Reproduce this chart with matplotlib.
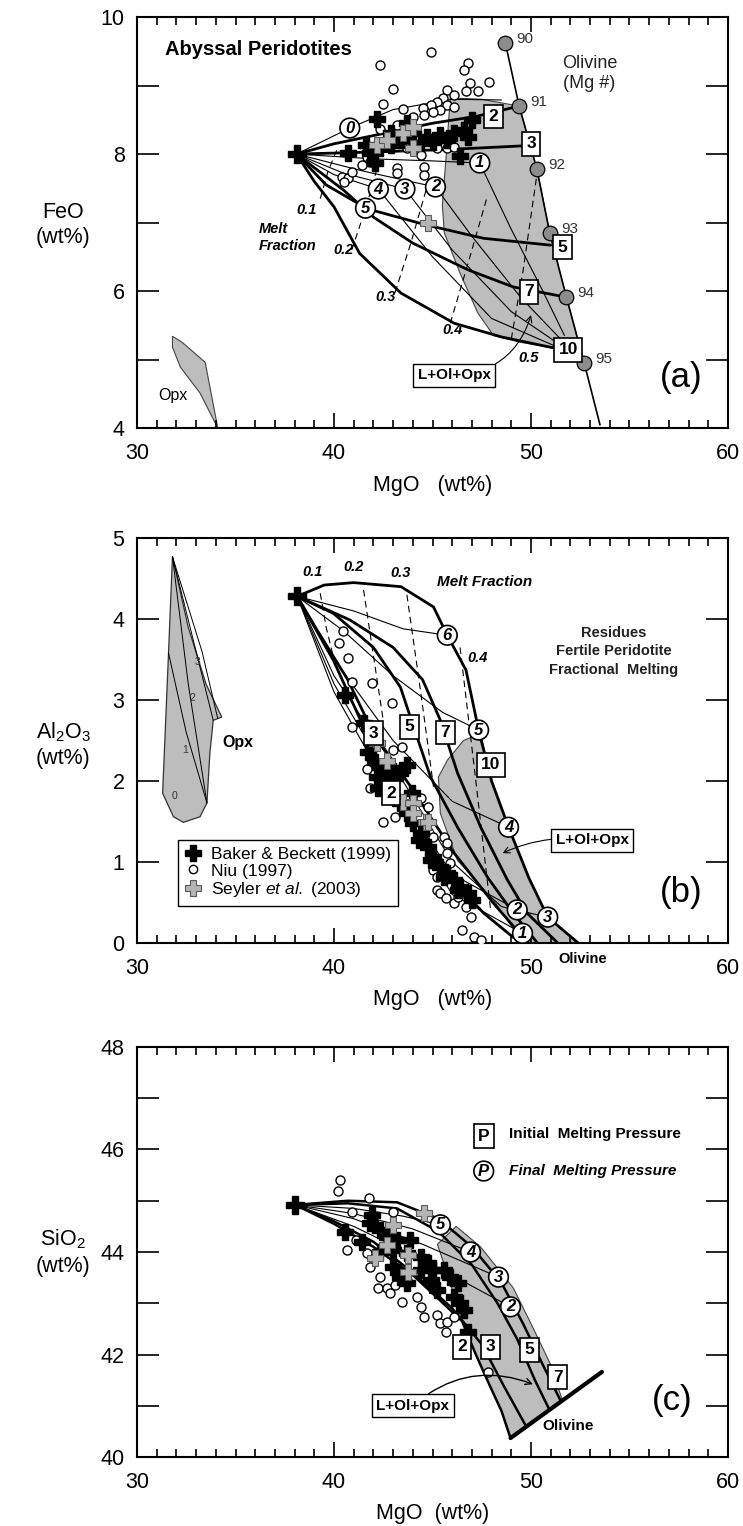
import numpy as np
import matplotlib
matplotlib.use("Agg")
import matplotlib.pyplot as plt
from matplotlib.lines import Line2D
from matplotlib.patches import Polygon

plt.rcParams['font.family'] = ['Liberation Sans', 'DejaVu Sans']
plt.rcParams['mathtext.fontset'] = 'custom'
plt.rcParams['mathtext.rm'] = 'Liberation Sans'
plt.rcParams['mathtext.it'] = 'Liberation Sans:italic'
plt.rcParams['mathtext.bf'] = 'Liberation Sans:bold'

# ---------------- (a) MgO - FeO ----------------
src_a = (38.1, 8.0)

niu_a_mgo = [44.9, 42.35, 43.0, 42.5, 43.5, 46.8, 46.6, 47.85, 46.9, 47.3, 46.7, 45.76, 46.1, 45.55,
             45.25, 44.9, 44.5, 45.76, 45.4, 45.0, 46.1, 44.55, 44.0, 42.35, 43.2, 41.7, 41.85, 43.2,
             43.2, 44.55, 44.55, 40.4, 40.7, 40.9, 40.5, 43.7, 45.25, 45.76, 46.1, 44.4, 41.4]
niu_a_feo = [9.49, 9.30, 8.95, 8.73, 8.66, 9.33, 9.23, 9.05, 9.04, 8.92, 8.92, 8.93, 8.86, 8.82,
             8.76, 8.72, 8.67, 8.72, 8.64, 8.61, 8.69, 8.57, 8.54, 8.36, 8.42, 7.96, 7.88, 7.80,
             7.72, 7.81, 7.69, 7.66, 7.65, 7.74, 7.59, 8.09, 8.09, 8.09, 8.10, 7.99, 7.84]
bb_a_mgo = [42.2, 41.6, 40.7, 42.1, 42.9, 43.7, 44.0, 44.7, 45.4, 46.1, 46.6, 47.0, 46.8, 46.4,
            45.05, 44.4, 43.4, 42.35, 42.9, 45.76, 41.85]
bb_a_feo = [8.51, 8.13, 8.01, 7.87, 8.31, 8.45, 8.31, 8.25, 8.28, 8.31, 8.35, 8.50, 8.25, 7.97,
            8.18, 8.16, 8.20, 8.09, 8.13, 8.20, 8.01]
sey_a_mgo = [42.2, 42.7, 43.5, 44.0, 44.0, 44.75]
sey_a_feo = [8.13, 8.20, 8.31, 8.40, 8.09, 6.99]

# olivine Mg# line
ol_mgo = [48.7, 49.4, 50.3, 50.95, 51.8, 52.7]
ol_feo = [9.62, 8.70, 7.78, 6.85, 5.91, 4.95]
ol_mgnum = ['90', '91', '92', '93', '94', '95']
ol_tail = (53.5, 4.05)

# initial melting pressure paths (kbar)
a_paths = {
    '2': [(38.1, 8.0), (40.0, 8.15), (42.5, 8.3), (45.0, 8.45), (47.2, 8.55), (49.4, 8.70)],
    '3': [(38.1, 8.0), (42.0, 8.03), (46.0, 8.07), (49.6, 8.12)],
    '5': [(38.1, 8.0), (39.6, 7.55), (41.7, 7.2), (44.75, 6.96), (47.6, 6.77), (51.0, 6.67)],
    '7': [(38.1, 8.0), (40.5, 7.47), (42.0, 7.08), (44.0, 6.70), (46.8, 6.31), (49.1, 6.06),
          (51.8, 5.91)],
    '10': [(38.1, 8.0), (39.0, 7.6), (40.0, 7.23), (41.3, 6.55), (43.4, 5.97), (46.1, 5.53),
           (48.5, 5.33), (51.15, 5.17)],
}
a_boxes = {'2': (48.1, 8.55), '3': (50.0, 8.15), '5': (51.6, 6.64), '7': (49.9, 5.99),
           '10': (51.9, 5.14)}
# final melting pressure curves
a_final = [
    [(38.1, 8.0), (40.8, 8.38), (43.0, 8.65), (46.0, 8.8), (48.5, 8.79)],
    [(38.1, 8.0), (42.0, 7.93), (45.0, 7.9), (47.4, 7.87), (49.0, 6.9), (50.6, 6.0), (51.7, 5.35)],
    [(38.1, 8.0), (41.5, 7.75), (45.15, 7.52), (47.0, 6.8), (49.5, 5.9), (51.5, 5.3)],
    [(38.1, 8.0), (40.5, 7.72), (43.6, 7.49), (46.0, 6.6), (49.0, 5.7), (51.3, 5.25)],
    [(38.1, 8.0), (40.0, 7.7), (42.25, 7.49), (45.0, 6.5), (48.0, 5.6), (51.2, 5.2)],
]
a_circles = {'0': (40.8, 8.38), '1': (47.4, 7.87), '2': (45.15, 7.52), '3': (43.6, 7.49),
             '4': (42.25, 7.49), '5': (41.6, 7.21)}
# melt fraction contours
a_melt = [
    [(39.3, 7.35), (39.7, 7.75), (40.2, 8.1)],
    [(40.9, 6.6), (41.6, 7.2), (42.3, 7.9)],
    [(43.1, 5.98), (43.9, 6.7), (44.8, 7.6)],
    [(45.9, 5.53), (46.8, 6.4), (47.8, 7.4)],
    [(49.0, 5.3), (49.6, 6.3), (50.3, 7.7)],
]
a_melt_lbl = {'0.1': (38.6, 7.18), '0.2': (40.5, 6.6), '0.3': (42.6, 5.91), '0.4': (46.0, 5.43),
              '0.5': (49.9, 5.02)}
a_lop = [(45.9, 8.82), (45.7, 8.0), (45.5, 7.25), (45.6, 6.85), (46.4, 6.26), (47.3, 5.68),
         (48.1, 5.35), (49.5, 5.25), (51.2, 5.17), (52.45, 5.2), (51.8, 5.91), (50.95, 6.85),
         (50.3, 7.78), (49.4, 8.70), (47.5, 8.80)]
a_opx = [(31.8, 5.34), (32.3, 5.25), (33.46, 4.96), (34.1, 4.0), (33.2, 4.51), (32.2, 4.89),
         (31.8, 5.18)]

# ---------------- (b) MgO - Al2O3 ----------------
src_b = (38.13, 4.28)

niu_b_mgo = [40.47, 40.27, 40.73, 40.93, 41.95, 42.96, 40.93, 42.5, 43.0, 43.47, 41.7, 41.85,
             42.35, 43.1, 44.4, 45.05, 45.56, 45.76, 45.0, 45.25, 45.25, 45.4, 45.66, 46.07,
             46.27, 46.7, 46.93, 46.5, 47.1, 47.44, 45.76, 45.9, 44.75]
niu_b_al = [3.85, 3.70, 3.52, 3.22, 3.21, 2.96, 2.67, 1.49, 2.38, 2.42, 2.15, 1.91,
            1.89, 1.56, 1.79, 1.31, 1.31, 1.11, 0.90, 0.81, 0.65, 0.62, 0.56, 0.49,
            0.57, 0.44, 0.32, 0.16, 0.07, 0.04, 1.23, 0.99, 1.68]
bb_b_mgo = [40.57, 41.5, 41.75, 42.1, 42.5, 43.0, 43.7, 42.2, 42.25, 42.86, 43.37, 43.37,
            43.98, 43.7, 44.0, 44.4, 44.75, 45.05, 45.4, 45.76, 46.07, 46.4, 46.8, 47.0,
            44.9, 45.56, 46.27, 44.3]
bb_b_al = [3.06, 2.72, 2.36, 2.23, 2.16, 2.13, 2.20, 2.05, 1.91, 2.04, 2.10, 1.73,
           1.85, 1.60, 1.48, 1.36, 1.19, 1.06, 0.94, 0.86, 0.78, 0.69, 0.62, 0.53,
           1.02, 0.81, 0.65, 1.27]
sey_b_mgo = [42.2, 42.7, 43.5, 44.0, 44.0, 44.65, 44.75]
sey_b_al = [2.47, 2.25, 1.74, 1.73, 1.61, 1.49, 1.50]

b_paths = {
    '10': [(38.13, 4.28), (39.5, 4.42), (41.0, 4.45), (43.4, 4.40), (45.05, 4.15), (45.75, 3.80),
           (46.7, 3.37), (47.34, 2.63), (48.0, 2.0), (48.86, 1.43), (49.9, 0.8), (50.85, 0.32),
           (52.4, 0.0)],
    '7': [(38.13, 4.28), (40.8, 3.99), (43.0, 3.65), (44.5, 3.25), (45.4, 2.75), (46.27, 2.10),
          (47.45, 1.43), (48.8, 0.78), (49.8, 0.37), (51.36, 0.0)],
    '5': [(38.13, 4.28), (39.97, 4.07), (42.0, 3.65), (43.37, 3.16), (44.0, 2.7), (44.9, 2.05),
          (46.27, 1.43), (47.8, 0.81), (49.1, 0.37), (50.33, 0.0)],
    '3': [(38.13, 4.28), (39.15, 3.86), (40.7, 3.25), (42.0, 2.59), (43.9, 1.93), (46.1, 1.11),
          (48.1, 0.49), (49.6, 0.07)],
    '2': [(38.13, 4.28), (39.97, 3.49), (41.5, 2.67), (42.9, 1.85), (45.05, 1.02), (47.6, 0.37),
          (49.1, 0.07)],
}
b_boxes = {'2': (42.9, 1.85), '3': (42.0, 2.59), '5': (43.83, 2.67), '7': (45.66, 2.6),
           '10': (47.95, 2.2)}
b_final = [
    [(38.13, 4.28), (41.0, 4.1), (43.5, 3.88), (45.75, 3.80)],
    [(38.13, 4.28), (40.5, 3.85), (43.0, 3.3), (45.5, 2.85), (47.34, 2.63)],
    [(38.13, 4.28), (40.0, 3.5), (43.0, 2.5), (46.0, 1.75), (48.86, 1.43)],
    [(38.13, 4.28), (40.0, 3.3), (43.0, 2.2), (46.0, 1.0), (48.5, 0.45), (50.85, 0.32)],
    [(38.13, 4.28), (40.0, 3.2), (43.0, 1.95), (46.0, 0.85), (49.3, 0.41)],
    [(38.13, 4.28), (40.0, 3.1), (43.0, 1.8), (46.0, 0.6), (49.57, 0.12)],
]
b_circles = {'6': (45.75, 3.80), '5': (47.34, 2.63), '4': (48.86, 1.43), '3': (50.85, 0.32),
             '2': (49.3, 0.41), '1': (49.57, 0.12)}
b_melt = [
    [(39.3, 4.32), (39.6, 3.9), (40.0, 3.5)],
    [(41.5, 4.36), (42.0, 3.55), (42.5, 2.75)],
    [(43.7, 4.3), (44.4, 3.1), (45.05, 1.93)],
    [(46.4, 3.65), (47.2, 2.0), (47.95, 0.41)],
]
b_melt_lbl = {'0.1': (38.9, 4.58), '0.2': (41.0, 4.64), '0.3': (43.37, 4.57), '0.4': (47.3, 3.52)}
b_lop = [(47.44, 2.59), (48.0, 2.0), (48.86, 1.43), (49.9, 0.8), (50.85, 0.32), (52.4, 0.0),
         (49.6, 0.0), (48.1, 0.53), (46.27, 1.02), (45.4, 1.6), (45.3, 2.05), (45.76, 2.26),
         (46.57, 2.5)]
b_opx = [(31.8, 4.77), (32.6, 3.9), (33.5, 3.2), (34.3, 2.79), (33.87, 2.75), (33.7, 2.35),
         (33.55, 1.73), (33.2, 1.56), (32.35, 1.49), (31.85, 1.56), (31.3, 1.85), (31.6, 3.58)]
b_opx_lines = [
    [(31.8, 4.77), (32.6, 3.2), (33.55, 1.73)],
    [(31.8, 4.77), (33.0, 3.6), (33.87, 2.75)],
    [(31.8, 4.77), (33.3, 3.6), (34.1, 2.77)],
    [(31.6, 3.58), (32.5, 2.6), (33.55, 1.73)],
]
b_opx_lbl = {'0': (31.9, 1.81), '1': (32.45, 2.38), '2': (32.8, 3.02), '3': (33.05, 3.47)}

# ---------------- (c) MgO - SiO2 ----------------
src_c = (38.03, 44.92)

niu_c_mgo = [40.32, 40.22, 41.8, 40.93, 43.0, 40.68, 41.1, 41.7, 41.85, 42.35, 42.25, 42.7,
             42.86, 43.47, 43.1, 44.23, 44.4, 44.55, 45.25, 45.4, 45.76, 46.07, 45.66, 43.7,
             47.8, 44.75, 43.2]
niu_c_si = [45.40, 45.19, 45.05, 44.78, 44.78, 44.04, 44.23, 43.98, 43.71, 43.51, 43.30, 43.30,
            43.20, 43.02, 43.36, 43.12, 42.93, 42.73, 42.77, 42.61, 42.63, 42.73, 42.44, 43.45,
            41.66, 43.71, 43.65]
bb_c_mgo = [40.57, 41.44, 41.95, 41.85, 42.35, 42.7, 43.2, 43.88, 43.0, 43.7, 44.4, 44.75,
            45.05, 45.56, 45.9, 44.4, 43.0, 43.37, 43.7, 44.9, 46.27, 46.4, 46.6, 46.8, 45.25,
            46.07, 42.35]
bb_c_si = [44.39, 44.20, 44.72, 44.56, 44.43, 44.30, 44.23, 44.23, 44.04, 43.98, 43.90, 43.78,
           43.65, 43.65, 43.51, 43.65, 43.71, 43.51, 43.40, 43.45, 43.40, 43.00, 42.87, 42.44,
           43.26, 43.12, 44.00]
sey_c_mgo = [44.55, 43.0, 42.7, 42.1, 43.78, 43.78]
sey_c_si = [44.76, 44.53, 44.14, 43.88, 43.94, 43.61]

c_paths = {
    '7': [(38.03, 44.92), (40.7, 45.0), (43.2, 44.97), (45.3, 44.65), (47.0, 44.1), (48.5, 43.4),
          (49.6, 42.6), (50.6, 41.8), (51.5, 41.1)],
    '5': [(38.03, 44.92), (40.7, 44.95), (43.2, 44.85), (45.3, 44.4), (47.0, 43.75), (48.3, 43.0),
          (49.3, 42.3), (50.2, 41.5), (50.9, 40.95)],
    '3': [(38.03, 44.92), (40.0, 44.6), (42.0, 44.2), (44.0, 43.6), (46.0, 42.9), (47.5, 42.2),
          (48.6, 41.4), (49.75, 40.6)],
    '2': [(38.03, 44.92), (40.0, 44.55), (42.0, 44.1), (44.0, 43.55), (45.4, 43.05), (46.5, 42.65),
          (47.2, 42.0), (47.9, 41.4), (48.5, 40.9), (48.96, 40.37)],
}
c_boxes = {'2': (46.5, 42.15), '3': (47.95, 42.15), '5': (49.93, 42.09), '7': (51.35, 41.56)}
c_final = [
    [(38.03, 44.92), (41.0, 44.85), (43.5, 44.7), (45.4, 44.53)],
    [(38.03, 44.92), (41.0, 44.75), (44.0, 44.45), (46.93, 44.0)],
    [(38.03, 44.92), (41.0, 44.65), (44.5, 44.15), (48.35, 43.51)],
    [(38.03, 44.92), (41.0, 44.5), (45.0, 43.75), (48.96, 42.93)],
]
c_circles = {'5': (45.4, 44.53), '4': (46.93, 44.0), '3': (48.35, 43.51), '2': (48.96, 42.93)}
c_lop = [(45.25, 44.15), (45.9, 43.4), (46.5, 42.65), (47.2, 42.0), (47.9, 41.4), (48.5, 40.9),
         (48.96, 40.37), (51.6, 41.1), (51.0, 41.8), (50.13, 42.5), (49.1, 43.3), (47.44, 44.1),
         (46.2, 44.5)]
c_olivine = [(48.96, 40.37), (53.6, 41.66)]


def draw_path(ax, pts, lw=2.0, ls='-', color='black', z=3):
    xs, ys = zip(*pts)
    ax.plot(xs, ys, color=color, lw=lw, ls=ls, zorder=z, solid_capstyle='round')


def box_label(ax, key, xy, fs=12.5):
    ax.text(xy[0], xy[1], key, ha='center', va='center', fontsize=fs, fontweight='bold',
            zorder=8, bbox=dict(boxstyle='square,pad=0.25', fc='white', ec='black', lw=1.2))


def circle_label(ax, key, xy, fs=12):
    ax.text(xy[0], xy[1], key, ha='center', va='center', fontsize=fs, fontweight='bold',
            fontstyle='italic', zorder=8,
            bbox=dict(boxstyle='circle,pad=0.14', fc='white', ec='black', lw=1.2))


def plot_data(ax, niu, bb, sey):
    ax.plot(niu[0], niu[1], 'o', ms=6.5, mfc='white', mec='black', mew=1.0, ls='none',
            zorder=5)
    ax.plot(bb[0], bb[1], 'P', ms=12, color='black', ls='none', zorder=6)
    ax.plot(sey[0], sey[1], 'P', ms=12, mfc='#b4b4b4', mec='#5a5a5a', mew=0.8, ls='none',
            zorder=6)


def setup_axes(ax, ylo, yhi, step):
    ax.set_xlim(30, 60)
    ax.set_ylim(ylo, yhi)
    ax.set_xticks([30, 40, 50, 60])
    ax.set_xticks(np.arange(31, 60), minor=True)
    ax.set_yticks(np.arange(ylo, yhi + 1, step))
    ax.set_yticks(np.arange(ylo, yhi + 1, 1), minor=True)
    ax.tick_params(which='both', direction='in', top=True, right=True, width=1.2,
                   labelsize=15.5)
    ax.tick_params(axis='x', which='major', length=11, pad=11)
    ax.tick_params(axis='x', which='minor', length=6)
    ax.tick_params(axis='y', which='both', length=16, pad=9)
    for sp in ax.spines.values():
        sp.set_linewidth(1.5)


fig = plt.figure(figsize=(7.43, 15.26), dpi=100)
ax_a = fig.add_axes([0.1844, 0.7195, 0.7954, 0.2693])
ax_b = fig.add_axes([0.1844, 0.3820, 0.7954, 0.2654])
ax_c = fig.add_axes([0.1844, 0.0452, 0.7954, 0.2687])

# ---- panel (a) ----
ax = ax_a
setup_axes(ax, 4, 10, 2)
ax.add_patch(Polygon(a_lop, closed=True, fc='#bdbdbd', ec='#444444', lw=0.8, zorder=1))
ax.add_patch(Polygon(a_opx, closed=True, fc='#bdbdbd', ec='#444444', lw=0.8, zorder=1))
for pts in a_melt:
    draw_path(ax, pts, lw=0.8, ls=(0, (6, 4)), z=2)
for pts in a_final:
    draw_path(ax, pts, lw=0.8, z=2)
for key, pts in a_paths.items():
    draw_path(ax, pts, lw=2.0)
ol_x = list(ol_mgo) + [ol_tail[0]]
ol_y = list(ol_feo) + [ol_tail[1]]
ax.plot(ol_x, ol_y, color='black', lw=1.2, zorder=3)
ax.plot(ol_mgo, ol_feo, 'o', ms=10.5, mfc='#8c8c8c', mec='black', mew=0.9, zorder=7)
for x, y, s in zip(ol_mgo, ol_feo, ol_mgnum):
    ax.annotate(s, (x, y), xytext=(8, 3), textcoords='offset points', fontsize=11,
                ha='left', va='center', color='#333333', zorder=7)
plot_data(ax, (niu_a_mgo, niu_a_feo), (bb_a_mgo, bb_a_feo), (sey_a_mgo, sey_a_feo))
ax.plot(*src_a, 'P', ms=13, color='black', zorder=7)
for key, xy in a_boxes.items():
    box_label(ax, key, xy)
for key, xy in a_circles.items():
    circle_label(ax, key, xy)
for key, xy in a_melt_lbl.items():
    ax.text(xy[0], xy[1], key, fontsize=10.5, fontweight='bold', fontstyle='italic',
            ha='center', va='center', zorder=7)
ax.text(36.2, 6.78, 'Melt\nFraction', fontsize=10.5, fontweight='bold', fontstyle='italic',
        ha='left', va='center', linespacing=1.3)
ax.annotate('L+Ol+Opx', xy=(50.0, 5.65), xytext=(46.1, 4.77), fontsize=11, fontweight='bold',
            ha='center', va='center', zorder=8,
            bbox=dict(boxstyle='square,pad=0.3', fc='white', ec='black', lw=1.0),
            arrowprops=dict(arrowstyle='->', lw=0.8, color='black',
                            connectionstyle='arc3,rad=0.35', shrinkA=0, shrinkB=0))
ax.text(31.8, 4.48, 'Opx', fontsize=11.5, ha='center', va='center')
ax.text(0.047, 0.92, 'Abyssal Peridotites', transform=ax.transAxes, fontsize=14.5,
        fontweight='bold', ha='left', va='center')
ax.text(51.6, 9.18, 'Olivine\n(Mg #)', fontsize=13, ha='left', va='center', linespacing=1.2,
        color='#222222')
ax.text(57.6, 4.74, '(a)', fontsize=25, ha='center', va='center')
ax.text(-0.125, 0.494, 'FeO\n(wt%)', transform=ax.transAxes, fontsize=15.5, ha='center',
        va='center', linespacing=1.2)
ax.text(0.5, -0.14, 'MgO   (wt%)', transform=ax.transAxes, fontsize=15.5, ha='center',
        va='center')

# ---- panel (b) ----
ax = ax_b
setup_axes(ax, 0, 5, 1)
ax.add_patch(Polygon(b_lop, closed=True, fc='#bdbdbd', ec='#444444', lw=0.8, zorder=1))
ax.add_patch(Polygon(b_opx, closed=True, fc='#bdbdbd', ec='#333333', lw=0.9, zorder=1))
for pts in b_opx_lines:
    draw_path(ax, pts, lw=0.7, z=2)
for key, xy in b_opx_lbl.items():
    ax.text(xy[0], xy[1], key, fontsize=7.5, ha='center', va='center', color='#333333')
ax.text(35.1, 2.48, 'Opx', fontsize=11.5, fontweight='bold', ha='center', va='center')
for pts in b_melt:
    draw_path(ax, pts, lw=0.8, ls=(0, (6, 4)), z=2)
for pts in b_final:
    draw_path(ax, pts, lw=0.8, z=2)
for key, pts in b_paths.items():
    draw_path(ax, pts, lw=2.0)
plot_data(ax, (niu_b_mgo, niu_b_al), (bb_b_mgo, bb_b_al), (sey_b_mgo, sey_b_al))
ax.plot(*src_b, 'P', ms=13, color='black', zorder=7)
for key, xy in b_boxes.items():
    box_label(ax, key, xy)
for key, xy in b_circles.items():
    circle_label(ax, key, xy)
for key, xy in b_melt_lbl.items():
    ax.text(xy[0], xy[1], key, fontsize=10.5, fontweight='bold', fontstyle='italic',
            ha='center', va='center', zorder=7)
ax.text(47.65, 4.46, 'Melt Fraction', fontsize=11, fontweight='bold', fontstyle='italic',
        ha='center', va='center')
ax.text(54.2, 3.6, 'Residues\nFertile Peridotite\nFractional  Melting', fontsize=10.5,
        fontweight='bold', ha='center', va='center', linespacing=1.45, color='#222222')
ax.annotate('L+Ol+Opx', xy=(48.55, 1.11), xytext=(53.1, 1.27), fontsize=11, fontweight='bold',
            ha='center', va='center', zorder=8,
            bbox=dict(boxstyle='square,pad=0.3', fc='white', ec='black', lw=1.0),
            arrowprops=dict(arrowstyle='->', lw=0.8, color='black',
                            connectionstyle='arc3,rad=0.15', shrinkA=0, shrinkB=0))
ax.text(52.6, -0.2, 'Olivine', fontsize=10.5, fontweight='bold', ha='center', va='center',
        clip_on=False)
ax.text(57.6, 0.63, '(b)', fontsize=25, ha='center', va='center')
handles = [
    Line2D([], [], marker='P', color='black', ls='none', ms=11),
    Line2D([], [], marker='o', mfc='white', mec='black', mew=1.0, ls='none', ms=6),
    Line2D([], [], marker='P', mfc='#b4b4b4', mec='#5a5a5a', mew=0.8, ls='none', ms=11),
]
labels = ['Baker & Beckett (1999)', 'Niu (1997)', r'Seyler $\mathit{et\ al.}$ (2003)']
leg = ax.legend(handles, labels, loc='lower left', bbox_to_anchor=(0.069, 0.091),
                fontsize=12.5, frameon=True, fancybox=False, edgecolor='black', framealpha=1,
                borderpad=0.4, labelspacing=0.1, handlelength=1.0, handletextpad=0.5,
                borderaxespad=0)
leg.get_frame().set_linewidth(1.0)
leg.set_zorder(9)
ax.text(-0.125, 0.49, 'Al$_2$O$_3$\n(wt%)', transform=ax.transAxes, fontsize=15.5, ha='center',
        va='center', linespacing=1.3)
ax.text(0.5, -0.14, 'MgO   (wt%)', transform=ax.transAxes, fontsize=15.5, ha='center',
        va='center')

# ---- panel (c) ----
ax = ax_c
setup_axes(ax, 40, 48, 2)
ax.add_patch(Polygon(c_lop, closed=True, fc='#bdbdbd', ec='#444444', lw=0.8, zorder=1))
for pts in c_final:
    draw_path(ax, pts, lw=0.8, z=2)
for key, pts in c_paths.items():
    draw_path(ax, pts, lw=1.8)
draw_path(ax, c_olivine, lw=3.0, z=4)
plot_data(ax, (niu_c_mgo, niu_c_si), (bb_c_mgo, bb_c_si), (sey_c_mgo, sey_c_si))
ax.plot(*src_c, 'P', ms=13, color='black', zorder=7)
for key, xy in c_boxes.items():
    box_label(ax, key, xy)
for key, xy in c_circles.items():
    circle_label(ax, key, xy)
ax.annotate('L+Ol+Opx', xy=(50.1, 41.42), xytext=(44.0, 41.0), fontsize=11,
            fontweight='bold', ha='center', va='center', zorder=8,
            bbox=dict(boxstyle='square,pad=0.3', fc='white', ec='black', lw=1.0),
            arrowprops=dict(arrowstyle='->', lw=1.0, color='black',
                            connectionstyle='arc3,rad=-0.3', shrinkA=0, shrinkB=0))
ax.text(51.86, 40.6, 'Olivine', fontsize=11, fontweight='bold', ha='center', va='center')
box_label(ax, 'P', (47.6, 46.26))
circle_label(ax, 'P', (47.6, 45.58))
ax.text(48.9, 46.3, 'Initial  Melting Pressure', fontsize=11, fontweight='bold',
        ha='left', va='center')
ax.text(48.9, 45.58, 'Final  Melting Pressure', fontsize=11, fontweight='bold',
        fontstyle='italic', ha='left', va='center')
ax.text(57.15, 41.1, '(c)', fontsize=25, ha='center', va='center')
ax.text(-0.125, 0.5, 'SiO$_2$\n(wt%)', transform=ax.transAxes, fontsize=15.5, ha='center',
        va='center', linespacing=1.3)
ax.text(0.5, -0.137, 'MgO  (wt%)', transform=ax.transAxes, fontsize=15.5, ha='center',
        va='center')

fig.savefig('out.png', dpi=100)
